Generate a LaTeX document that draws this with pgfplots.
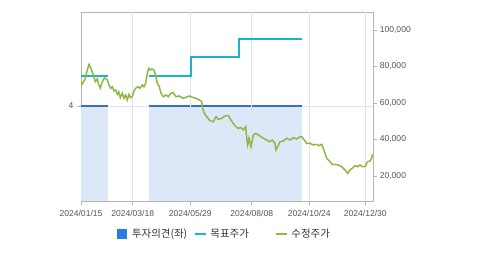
\documentclass[border=0pt]{standalone}
\usepackage{pgfplots}
\pgfplotsset{compat=1.18}
\usepackage{fontspec}
\setmainfont{Liberation Sans}
\newfontfamily\kr{Noto Sans CJK KR}
\definecolor{framegray}{HTML}{B4B4B4}
\definecolor{gridgray}{HTML}{E3E3E3}
\definecolor{fillblue}{HTML}{DCE7F8}
\definecolor{opblue}{HTML}{3A70B8}
\definecolor{legblue}{HTML}{2A7BE0}
\definecolor{tgtcyan}{HTML}{1CB4C8}
\definecolor{prgreen}{HTML}{8DB843}
\definecolor{ticktext}{HTML}{555555}
\definecolor{legtext}{HTML}{333333}
\begin{document}
\begin{tikzpicture}
\path[use as bounding box] (0bp,0bp) rectangle (479bp,255bp);
% left axis: investment opinion
\begin{axis}[
  at={(81bp,54bp)}, anchor=south west, scale only axis,
  width=292.3bp, height=188.7bp,
  xmin=0, xmax=292.3, ymin=0, ymax=7.946,
  axis line style={draw=framegray},
  xtick={0,51.7,109.3,170.7,228.3,284.3},
  xticklabels={2024/01/15,2024/03/18,2024/05/29,2024/08/08,2024/10/24,2024/12/30},
  ytick={4},
  xtick pos=bottom, ytick pos=left,
  tick align=outside, major tick length=4bp,
  tick style={draw=framegray, line width=0.6bp},
  ymajorgrids, grid style={gridgray, line width=0.6bp},
  tick label style={font=\fontsize{8.6}{10}\selectfont, text=ticktext},
  xticklabel style={yshift=-1.5bp},
  /pgf/number format/assume math mode=true,
]
\addplot[fill=fillblue, draw=none] coordinates {(0,4) (27.3,4)} \closedcycle;
\addplot[fill=fillblue, draw=none] coordinates {(68,4) (221.3,4)} \closedcycle;
\addplot[opblue, line width=1.8bp] coordinates {(0,4) (27.3,4)};
\addplot[opblue, line width=1.8bp] coordinates {(68,4) (221.3,4)};
\end{axis}
% right axis: prices
\begin{axis}[
  at={(81bp,54bp)}, anchor=south west, scale only axis,
  width=292.3bp, height=188.7bp,
  xmin=0, xmax=292.3, ymin=6300, ymax=109700,
  axis line style={draw=none},
  xtick={51.7,109.3,170.7,228.3,284.3},
  xticklabels={},
  major x tick style={draw=none},
  xmajorgrids, grid style={gridgray, line width=0.6bp},
  ytick={20000,40000,60000,80000,100000},
  ytick pos=right,
  tick align=outside, major tick length=4bp,
  major y tick style={draw=framegray, line width=0.6bp},
  scaled y ticks=false,
  /pgf/number format/fixed, /pgf/number format/precision=0,
  /pgf/number format/assume math mode=true,
  /pgf/number format/1000 sep={,},
  yticklabel style={font=\fontsize{8.6}{10}\selectfont, text=ticktext, xshift=-1bp},
  legend columns=3,
  legend style={draw=none, fill=none, inner sep=0pt, outer sep=0pt,
    at={(axis description cs:0.1221,-0.175)}, anchor=west,
    font=\kr\fontsize{10.5}{12}\selectfont, text=legtext,
    nodes={inner sep=0pt, outer sep=0pt},
    column sep=0pt},
  legend cell align=left,
]
\addlegendimage{legend image code/.code={\fill[legblue] (0bp,-4.5bp) rectangle (9bp,4.5bp);}}
\addlegendentry{\kern6bp 투자의견(좌)\kern7.4bp}
\addplot[tgtcyan, line width=1.8bp, forget plot] coordinates {(0,75000) (27.3,75000)};
\addplot[tgtcyan, line width=1.8bp, const plot, legend image code/.code={\draw[tgtcyan, line width=1.5bp] (0bp,0bp) -- (11bp,0bp);}]
  coordinates {(68,75000) (110,85000) (158,95000) (221.3,95000)};
\addlegendentry{\kern3.3bp 목표주가\kern26.7bp}
\addplot[prgreen, line width=1.5bp, legend image code/.code={\draw[prgreen, line width=1.5bp] (0bp,0bp) -- (11bp,0bp);}] coordinates {
(0,72000) (1,70250) (3.7,72600) (6.3,78080) (8,81200) (9.7,79340) (12,75730) (14.3,71670)
(16.3,73150) (17.7,70250) (19.3,68200) (21.3,71670) (23.7,73860) (26.3,72600) (28,69860)
(29.7,68050) (31.3,68930) (33,66580) (34.7,67120) (36.3,64770) (37.7,66190) (39.3,62900)
(41.3,65320) (43,62580) (44.7,64380) (46.3,61640) (48,64770) (49.7,62900) (51.3,63450)
(53,66580) (54.7,68050) (57,68930) (59,68050) (61.3,69860) (63,68930) (64.7,70800)
(66.3,76270) (67.7,79010) (69.3,78080) (71,78630) (73,78080) (75,74410) (76.3,70790)
(78.3,68930) (80,65320) (82.3,63450) (85,64380) (87.3,63450) (89.7,65320) (92.3,65640)
(95,63450) (98.3,63840) (101.7,62580) (105,63120) (108.3,63840) (111.7,63120) (115,62580)
(118.3,61640) (120.7,60710) (121.7,57100) (123.3,54360) (125.7,52490) (129,50300)
(132.3,49750) (135,52490) (137.3,51070) (140.7,51620) (144,52880) (147.3,53150)
(150,50690) (153.3,47950) (156.7,46140) (160,46470) (162.3,45210) (164.7,47010)
(165.7,40660) (166.7,36990) (168,40660) (170,36060) (172.3,42470) (174.7,43400)
(177.3,42470) (180,41530) (182.3,40660) (185.7,39730) (189,38800) (191.3,39730)
(194,37920) (195,34250) (196.7,36060) (199,38800) (202.3,39180) (205.7,40660)
(209,39730) (212.3,40990) (215.7,40270) (219,41530) (220.7,41530) (223.3,39730)
(225.7,37920) (229,37920) (232.3,36990) (235.7,37370) (238,36600) (240.7,37370)
(242.3,35180) (244,32440) (245.7,29700) (249,27840) (251.3,26410) (254,26410)
(257.3,26030) (260.7,25100) (264,23290) (266.7,21480) (269,23290) (271.3,24220)
(274,25650) (276.7,25100) (279,26030) (281.3,25100) (284,25100) (286.7,27840)
(289,28220) (290.7,29700) (291.3,31890)
};
\addlegendentry{\kern3.3bp 수정주가}
\end{axis}
\end{tikzpicture}
\end{document}
